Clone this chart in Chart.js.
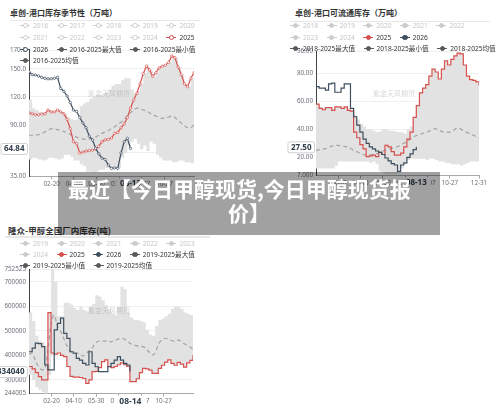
<!DOCTYPE html>
<html lang="zh-CN">
<head>
<meta charset="utf-8">
<title>甲醇库存季节性</title>
<script src="https://cdn.jsdelivr.net/npm/chart.js@4.4.1/dist/chart.umd.min.js"></script>
<style>
html,body{margin:0;padding:0;}
body{width:500px;height:408px;position:relative;overflow:hidden;background:#fff;font-family:"Noto Sans CJK SC","Noto Sans",sans-serif;}
canvas{position:absolute;}
.title{position:absolute;font-size:8px;font-weight:700;color:#333;white-space:nowrap;line-height:10px;}
.rule{position:absolute;height:1.5px;background:#e8e8e8;}
.legrow{position:absolute;display:flex;align-items:center;white-space:nowrap;font-size:6.6px;line-height:9px;height:9px;font-family:"Noto Sans","Noto Sans CJK SC",sans-serif;}
.item{display:flex;align-items:center;margin-right:8.5px;}
.ic{position:relative;width:10px;height:9px;margin-right:3px;flex:none;}
.ic .ln{position:absolute;left:0;width:10px;top:4px;height:1px;}
.ic .dot{position:absolute;left:2.6px;top:2.1px;width:3.2px;height:3.2px;border-radius:50%;border:0.8px solid;box-sizing:content-box;}
.wm{position:absolute;font-size:7px;color:rgba(140,140,140,0.35);white-space:nowrap;}
.banner{position:absolute;left:58px;top:172px;width:382px;height:63px;background:rgba(0,0,0,0.37);z-index:10;}
.bt{position:absolute;color:#fff;font-weight:700;font-size:21px;line-height:21px;white-space:nowrap;z-index:11;font-family:"Noto Sans CJK SC",sans-serif;}
</style>
</head>
<body>
<canvas id="c1" width="205" height="152" style="left:0;top:40px"></canvas>
<canvas id="c2" width="215" height="152" style="left:285px;top:40px"></canvas>
<canvas id="c3" width="205" height="146" style="left:0;top:262px"></canvas>

<div class="title" style="left:10px;top:8px">卓创-港口库存季节性（万吨）</div>
<div class="rule" style="left:10px;top:19.5px;width:190px"></div>
<div class="title" style="left:295px;top:8px">卓创-港口可流通库存（万吨）</div>
<div class="rule" style="left:290px;top:20.5px;width:200px"></div>
<div class="title" style="left:8px;top:225px;font-size:8.5px">隆众-甲醇全国厂内库存(吨)</div>
<div class="rule" style="left:5px;top:236px;width:205px"></div>

<div class="wm" style="left:88px;top:88px">紫金天风期货</div>
<div class="wm" style="left:373px;top:88px">紫金天风期货</div>
<div class="wm" style="left:88px;top:305px">紫金天风期货</div>

<div id="legends"></div>

<div class="banner"></div>
<div class="bt" style="left:68px;top:178px">最近【今日甲醇现货,今日甲醇现货报</div>
<div class="bt" style="left:228px;top:202px">价】</div>

<script>
// ---------- data ----------
const days = [0,7,14,21,28,35,42,49,56,63,70,77,84,91,98,105,112,119,126,133,140,147,154,161,168,175,182,189,196,203,210,217,224,231,238,245,252,259,266,273,280,287,294,301,308,315,322,329,336,343,350,357,364];
const days2026 = [0,7,14,21,28,35,42,49,56,63,70,77,84,91,98,105,112,119,126,133,140,147,154,161,168,175,182,189,196,203,210,217,224];

const xTickDays = [50,99,149,199,249,299];
const xTickLabels = ["02-20","04-10","05-30","07-19","09-07","10-27"];
const xTickDays2 = [50,99,149,199,249,299,364];
const xTickLabels2 = ["02-20","04-10","05-30","07-19","09-07","10-27","12-31"];

// Chart 1: 卓创-港口库存季节性（万吨）
const port2025 = [103,102,101,101,101.5,102,106,104,104,106,104,102,96,86,72,70,60,61,62,62.5,63,64,67,72,74,74.5,76,81,82,87,91,98,108,117,124,134,145,153,149,142,146,151,153,154,157,164,162,152,144,134,131,140,146];
const port2026 = [147,144,143.5,142.5,141,140,139.5,139.5,140,141,129,126,121,114,106,104.5,98,92,87,78,74,65,59,54.5,53,47,43.5,44,43.5,60,72,75.7,64.84];
const portMean = [79,79,79,79.5,81,82.5,84,86,86,85,84,83,82,80,78,77,75.5,75,74.5,75,75.5,77,79,81,82.5,84,86,88,91,93,96,100,103,106,108,107.5,106,105,103,101,99.5,98,97,97.5,98.5,99.5,98,95,92,89,87,87,90];
const portMax = [117,108,106,104,104,104,106,104,104,106,104,102,98,96,95,96,110,113,115,118,120,122,122,123,125,128,132,134,134,138,140,140,128,124,126,134,145,153,149,142,146,151,153,154,157,164,162,152,144,134,131,140,146];
const portMin = [53,55,54,53,52,53,55,55,54,53,54,58,58,56,52,52,48,46,40,40,39,40,42,42,44,44,43.5,44,43.5,55,60,68,72,75,70,64,68,62,72,70,58,55,52,52,52,50,50,52,52,50,50,49,48];
const yTicks1 = [35,60,90,120,150,170];

// Chart 2: 卓创-港口可流通库存（万吨）
const flow2025 = [58,55,54,55.5,55.5,53.5,56,56,55,56,53.5,53,38,34,29,26,20.5,21,21.5,20.5,23.5,22,28.5,27.5,24,21.5,21.5,23,27.5,33,38,48.5,57,66,69.5,72,78,83,81,76,83,89,86,90,92.5,94.5,94,86,78,75.5,75,74,71.5];
const flow2026 = [70.5,69.5,69.5,68,72.5,73,66.5,66.5,69.5,72.5,72.5,55,49,43,38,33,30,27.5,26,24.5,23.5,22,19.5,17.5,15.5,14.5,10,14.5,16,20,22.5,25.5,27.5];
const flowMean = [25,25.5,25.8,26.2,27,28,28.5,28.6,28.2,27.8,27.4,26.5,25,24,23,22,21.4,21.6,22,22.5,23,24,25,25.5,26.2,27,27.5,29,30,31,33,34.5,35.5,36.5,37,37.8,38.5,39.5,40.5,39.5,38.5,38,38,38.2,39.5,41,40.5,39,38,37,36,35,34];
const flowMax = [58,56,55,56,56,55,56,56,55,56,55,54,50,47,44,42,40,40,39,38,38.5,40,40,39,39,38.5,38,38,37,40,42,48.5,57,66,69.5,72,78,83,81,76,83,89,86,90,92.5,94.5,94,86,78,75.5,75,74,71.5];
const flowMin = [12,12,12,12,12,12,14,17,17,17,17,17,17,17,17,17,17,16,17,15,10,9,8,8,8,8,9,12,15,18,19,19,19,19,19,18,19,19,18,17,17,16,16,15,15,15,14,15,16,17,17,17,17];
const yTicks2 = [7,20,40,60,80,96];

// Chart 3: 隆众-甲醇全国厂内库存(吨)
const plant2025 = [355000,345000,330000,314000,300000,300000,575000,410000,405000,410000,400000,395000,355000,315000,312000,312000,310000,306000,286000,300000,334000,335000,350000,375000,382000,355000,350000,355000,362000,370000,362000,355000,293000,293000,305000,330000,347000,345000,340000,327000,327000,347000,360000,373000,382000,368000,360000,372000,365000,352000,370000,380000,402000];
const plant2026 = [415000,430000,450000,448000,436000,361000,341000,341000,504000,531000,552000,490000,470000,415000,409000,388000,381000,368000,361000,415000,368000,354000,334000,334000,334000,354000,368000,381000,395000,381000,368000,361000,334040];
const plantMean = [405000,410000,380000,355000,342000,345000,420000,530000,565000,520000,500000,470000,440000,420000,410000,410000,408000,398000,405000,420000,430000,450000,458000,460000,458000,460000,455000,462000,465000,470000,468000,460000,450000,443000,440000,437000,436000,430000,415000,402000,410000,445000,462000,470000,468000,462000,458000,462000,460000,450000,443000,435000,425000];
const plantMax = [575000,540000,480000,460000,455000,440000,575000,752525,700000,560000,560000,615000,615000,608000,595000,585000,600000,585000,580000,600000,610000,645000,640000,625000,605000,590000,572000,565000,600000,680000,670000,575000,555000,545000,545000,540000,535000,505000,485000,480000,520000,545000,550000,560000,570000,590000,600000,598000,590000,575000,570000,565000,565000];
const plantMin = [320000,300000,270000,260000,250000,244005,320000,400000,405000,410000,400000,395000,355000,315000,312000,312000,310000,306000,286000,300000,334000,335000,350000,375000,382000,355000,350000,355000,362000,370000,362000,355000,293000,293000,305000,330000,347000,345000,340000,327000,327000,347000,360000,373000,382000,368000,360000,372000,365000,352000,370000,380000,402000];
const yTicks3 = [244005,300000,400000,500000,600000,700000,752525];

// legends
const legend1 = [
  ["2016","off"],["2017","off"],["2018","off"],["2019","off"],["2020","off"],
  ["2021","off"],["2022","off"],["2023","off"],["2024","off"],["2025","red"],
  ["2026","dark"],["2016-2025最大值","gray"],["2016-2025最小值","gray"],
  ["2016-2025均值","gray"]
];
const legend2 = [
  ["2018","off"],["2019","off"],["2020","off"],["2021","off"],["2022","off"],
  ["2023","off"],["2024","off"],["2025","red"],["2026","dark"],
  ["2018-2025最大值","gray"],["2018-2025最小值","gray"],["2018-2025均值","gray"]
];
const legend3 = [
  ["2019","off"],["2020","off"],["2021","off"],["2022","off"],["2023","off"],
  ["2024","off"],["2025","red"],["2026","dark"],["2019-2025最大值","gray"],
  ["2019-2025最小值","gray"],["2019-2025均值","gray"]
];

// ---------- styles ----------
const FONT = '"Noto Sans","Noto Sans CJK SC",sans-serif';
const RED = '#d6504d';
const DARK = '#3e4e5e';
const COLORS = {off:'#cccccc', red:RED, dark:DARK, gray:'#5a5a5a'};

function buildLegend(items, rowSizes, left, tops, hollow) {
  const host = document.getElementById('legends');
  let k = 0;
  rowSizes.forEach((n, r) => {
    const row = document.createElement('div');
    row.className = 'legrow';
    row.style.left = left + 'px';
    row.style.top = tops[r] + 'px';
    for (let j = 0; j < n; j++, k++) {
      const [label, key] = items[k];
      const col = COLORS[key];
      const it = document.createElement('div');
      it.className = 'item';
      const ic = document.createElement('div'); ic.className = 'ic';
      const ln = document.createElement('div'); ln.className = 'ln'; ln.style.background = col;
      const dot = document.createElement('div'); dot.className = 'dot';
      dot.style.borderColor = col;
      dot.style.background = (hollow && (key === 'off' || key === 'red' || key === 'dark')) ? '#fff' : col;
      ic.appendChild(ln); ic.appendChild(dot);
      const tx = document.createElement('span');
      tx.textContent = label;
      tx.style.color = key === 'off' ? '#c8c8c8' : '#333';
      it.appendChild(ic); it.appendChild(tx);
      row.appendChild(it);
    }
    host.appendChild(row);
  });
}
buildLegend(legend1, [5,5,3,1], 20, [20.5,32.5,44.5,56], true);
buildLegend(legend2, [5,4,3], 290, [20.5,32.5,44], false);
buildLegend(legend3, [5,4,2], 20, [238.5,249.5,260.5], false);

const toXY = (xs, ys) => ys.map((v, i) => ({x: xs[i], y: v}));

const hlPlugin = {
  id: 'hl',
  afterDraw(chart, args, o) {
    const c = chart.ctx, xs = chart.scales.x, ys = chart.scales.y;
    c.save();
    // y-axis pointer label
    c.font = `bold 8px ${FONT}`;
    let tw = c.measureText(o.yText).width;
    const py = ys.getPixelForValue(o.yVal);
    const bw = tw + 6, bh = 11;
    const bx = ys.right - 2 - bw;
    c.fillStyle = '#fff';
    c.strokeStyle = '#cfcfcf';
    c.lineWidth = 1;
    c.beginPath();
    c.roundRect(bx + 0.5, py - bh / 2 + 0.5, bw, bh, 2);
    c.fill(); c.stroke();
    c.fillStyle = '#33404d';
    c.textAlign = 'left'; c.textBaseline = 'middle';
    c.fillText(o.yText, bx + 3.5, py + 0.5);
    // x-axis pointer label
    c.font = `bold ${o.xFont}px ${FONT}`;
    tw = c.measureText(o.xText).width;
    const px = xs.getPixelForValue(o.xVal);
    const xw = tw + o.xPad * 2;
    c.fillStyle = '#fff';
    c.fillRect(px - xw / 2, xs.top + 2, xw, 11);
    c.fillStyle = '#33404d';
    c.textAlign = 'center'; c.textBaseline = 'middle';
    c.fillText(o.xText, px, xs.top + o.xDy);
    c.restore();
  }
};

function buildChart(id, o) {
  const datasets = [
    {data: toXY(days, o.max), borderWidth: 0, borderColor: 'rgba(0,0,0,0)', pointRadius: 0, stepped: true, fill: '+1', backgroundColor: '#e2e2e2', order: 10},
    {data: toXY(days, o.min), borderWidth: 0, borderColor: 'rgba(0,0,0,0)', pointRadius: 0, stepped: true, fill: false, order: 9},
    {data: toXY(days, o.mean), borderColor: '#a3a3a3', borderWidth: 1.2, borderDash: [4, 3], pointRadius: 0, tension: 0.3, fill: false, order: 5},
    {data: toXY(days, o.y2025), borderColor: RED, borderWidth: 1.2, stepped: o.stepped, tension: 0,
     pointRadius: o.markers ? 1.2 : 0, pointBackgroundColor: '#fff', pointBorderColor: RED, pointBorderWidth: 0.7, fill: false, order: 2},
    {data: toXY(days2026, o.y2026), borderColor: DARK, borderWidth: 1.2, stepped: o.stepped, tension: 0,
     pointRadius: o.markers ? 1.2 : 0, pointBackgroundColor: '#fff', pointBorderColor: DARK, pointBorderWidth: 0.7, fill: false, order: 1}
  ];
  return new Chart(document.getElementById(id), {
    type: 'line',
    data: {datasets},
    plugins: [hlPlugin],
    options: {
      responsive: false, animation: false, events: [],
      layout: {padding: {top: o.padTop, right: o.padRight, left: 0, bottom: 0}},
      plugins: {legend: {display: false}, tooltip: {enabled: false}, hl: o.hl},
      scales: {
        x: {
          type: 'linear', min: 0, max: 364,
          afterBuildTicks: s => { s.ticks = o.xTicks.map(v => ({value: v})); },
          afterFit: s => { s.height = o.xH; },
          ticks: {autoSkip: false, maxRotation: 0, minRotation: 0, padding: 1, color: '#6e7079',
                  font: {size: 6.3, family: FONT}, callback: (v, i) => o.xLabels[i]},
          grid: {drawOnChartArea: false, drawTicks: true, tickLength: 3, tickColor: '#aaa'},
          border: {display: true, color: '#aaa', width: 1}
        },
        y: {
          type: 'linear', min: o.yMin, max: o.yMax,
          afterBuildTicks: s => { s.ticks = o.yTicks.map(v => ({value: v})); },
          afterFit: s => { s.width = o.yW; },
          ticks: {padding: 3, color: '#6e7079', font: {size: 6.3, family: FONT}, callback: v => o.yFmt(v)},
          grid: {color: '#efefef', drawTicks: false},
          border: {display: true, color: '#444', width: 1}
        }
      }
    }
  });
}

buildChart('c1', {
  max: portMax, min: portMin, mean: portMean, y2025: port2025, y2026: port2026,
  stepped: false, markers: true,
  yMin: 35, yMax: 170, yTicks: yTicks1, yFmt: v => Number(v).toPrecision(4), yW: 29,
  xTicks: xTickDays, xLabels: xTickLabels, xH: 15.7, padTop: 10.3, padRight: 11,
  hl: {yVal: 64.84, yText: '64.84', xVal: 224, xText: '08-13', xFont: 8, xPad: 4, xDy: 7.5}
});
buildChart('c2', {
  max: flowMax, min: flowMin, mean: flowMean, y2025: flow2025, y2026: flow2026,
  stepped: true, markers: false,
  yMin: 7, yMax: 96, yTicks: yTicks2, yFmt: v => Number(v).toPrecision(4), yW: 31,
  xTicks: xTickDays2, xLabels: xTickLabels2, xH: 16.5, padTop: 11, padRight: 21,
  hl: {yVal: 27.5, yText: '27.50', xVal: 224, xText: '08-13', xFont: 8, xPad: 4, xDy: 7.5}
});
buildChart('c3', {
  max: plantMax, min: plantMin, mean: plantMean, y2025: plant2025, y2026: plant2026,
  stepped: true, markers: false,
  yMin: 244005, yMax: 752525, yTicks: yTicks3, yFmt: v => String(v), yW: 29,
  xTicks: xTickDays, xLabels: xTickLabels, xH: 14.3, padTop: 7, padRight: 12,
  hl: {yVal: 334040, yText: '334040', xVal: 225, xText: '08-14', xFont: 8.5, xPad: 5, xDy: 8}
});
</script>
</body>
</html>
